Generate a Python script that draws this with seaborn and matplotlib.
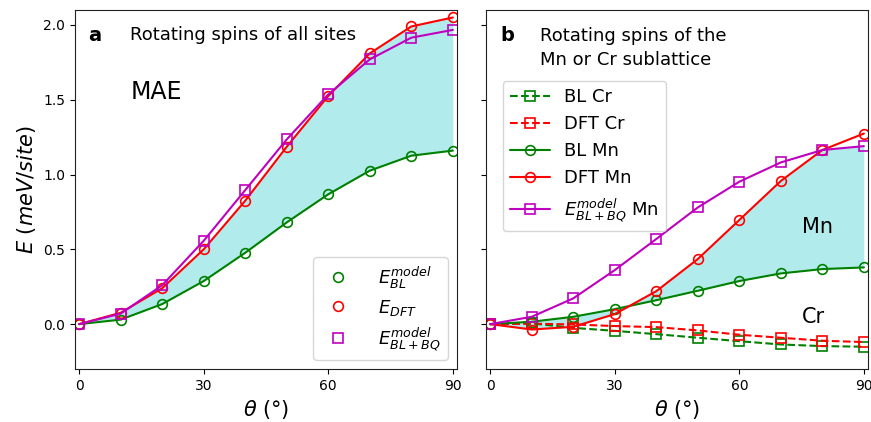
import numpy as np
import pandas as pd
import matplotlib
matplotlib.use("Agg")
import matplotlib.pyplot as plt
from matplotlib.lines import Line2D
import seaborn as sns

# angles (deg)
theta = [0, 10, 20, 30, 40, 50, 60, 70, 80, 90]

# panel a: all sites rotated
bl_all = [0.0, 0.03, 0.134, 0.288, 0.477, 0.68, 0.868, 1.026, 1.126, 1.16]
dft_all = [0.0, 0.076, 0.24, 0.50, 0.825, 1.186, 1.525, 1.81, 1.99, 2.05]
blbq_all = [0.0, 0.07, 0.26, 0.557, 0.896, 1.235, 1.536, 1.77, 1.915, 1.967]

# panel b: only one sublattice rotated
bl_cr = [0.0, 0.005, -0.025, -0.045, -0.067, -0.091, -0.114, -0.136, -0.147, -0.151]
dft_cr = [0.0, 0.003, -0.002, -0.013, -0.02, -0.042, -0.071, -0.091, -0.111, -0.12]
bl_mn = [0.0, 0.016, 0.049, 0.10, 0.16, 0.223, 0.288, 0.339, 0.368, 0.379]
dft_mn = [0.0, -0.036, -0.018, 0.067, 0.22, 0.435, 0.696, 0.957, 1.164, 1.274]
blbq_mn = [0.0, 0.049, 0.172, 0.361, 0.569, 0.78, 0.952, 1.081, 1.164, 1.19]

df = pd.DataFrame({"theta": theta,
                   "bl_all": bl_all, "dft_all": dft_all, "blbq_all": blbq_all,
                   "bl_cr": bl_cr, "dft_cr": dft_cr, "bl_mn": bl_mn,
                   "dft_mn": dft_mn, "blbq_mn": blbq_mn})

sns.set_style("ticks")
plt.rcParams["font.family"] = ["DejaVu Sans"]
plt.rcParams["mathtext.fontset"] = "dejavusans"
for k in ("text.color", "axes.labelcolor", "xtick.color", "ytick.color"):
    plt.rcParams[k] = "black"
plt.rcParams["axes.edgecolor"] = "#222222"

fig = plt.figure(figsize=(8.71, 4.22), dpi=100)
ax1 = fig.add_axes([0.0861, 0.1256, 0.4386, 0.8507])
ax2 = fig.add_axes([0.558, 0.1256, 0.4386, 0.8507], sharey=ax1)

ms = 7
lw = 1.5

def draw(ax, col, color, marker, ls="-", label=None):
    sns.lineplot(data=df, x="theta", y=col, ax=ax, color=color, lw=lw,
                 linestyle=ls, marker=marker, ms=ms, mfc="none", mec=color,
                 mew=1.2, label=label, legend=False)

# ---- panel a ----
ax1.fill_between(df["theta"], df["bl_all"], df["dft_all"], color="c",
                 alpha=0.3, lw=0, zorder=0)
draw(ax1, "bl_all", "green", "o")
draw(ax1, "dft_all", "red", "o")
draw(ax1, "blbq_all", "m", "s")

handles = [Line2D([], [], ls="none", marker="o", ms=ms, mfc="none", mec="green", mew=1.2),
           Line2D([], [], ls="none", marker="o", ms=ms, mfc="none", mec="red", mew=1.2),
           Line2D([], [], ls="none", marker="s", ms=ms, mfc="none", mec="m", mew=1.2)]
ax1.legend(handles, [r"$E_{BL}^{model}$", r"$E_{DFT}$", r"$E_{BL+BQ}^{model}$"],
           loc="lower right", fontsize=13, handletextpad=1.2, labelspacing=0.4)

ax1.text(2.2, 1.93, "a", fontsize=14, fontweight="bold", va="center")
ax1.text(12.3, 1.93, "Rotating spins of all sites", fontsize=13, va="center")
ax1.text(12.3, 1.55, "MAE", fontsize=17, va="center")

# ---- panel b ----
ax2.fill_between(df["theta"], df["bl_mn"],
                 np.minimum(df["dft_mn"], df["blbq_mn"]),
                 color="c", alpha=0.3, lw=0, zorder=0)
draw(ax2, "bl_cr", "green", "s", ls="--", label="BL Cr")
draw(ax2, "dft_cr", "red", "s", ls="--", label="DFT Cr")
draw(ax2, "bl_mn", "green", "o", label="BL Mn")
draw(ax2, "dft_mn", "red", "o", label="DFT Mn")
draw(ax2, "blbq_mn", "m", "s", label=r"$E_{BL+BQ}^{model}$ Mn")
ax2.legend(loc="upper left", bbox_to_anchor=(0.044, 0.802), borderaxespad=0,
           fontsize=13, handlelength=2.2)

ax2.text(2.4, 1.93, "b", fontsize=14, fontweight="bold", va="center")
ax2.text(12.0, 1.845, "Rotating spins of the\nMn or Cr sublattice", fontsize=13,
         va="center", linespacing=1.45)
ax2.text(75.1, 0.65, "Mn", fontsize=15, va="center")
ax2.text(75.1, 0.045, "Cr", fontsize=15, va="center")

for ax in (ax1, ax2):
    ax.set_xlim(-1, 91)
    ax.set_xticks([0, 30, 60, 90])
    ax.tick_params(labelsize=10)
    ax.set_xlabel(r"$\theta$ (°)", fontsize=15)
    ax.set_ylabel("")

ax1.set_ylim(-0.3, 2.1)
ax1.set_yticks([0.0, 0.5, 1.0, 1.5, 2.0])
ax1.set_ylabel(r"$E\ (meV/site)$", fontsize=15)
ax2.tick_params(labelleft=False)

fig.savefig("out.png", dpi=100)
